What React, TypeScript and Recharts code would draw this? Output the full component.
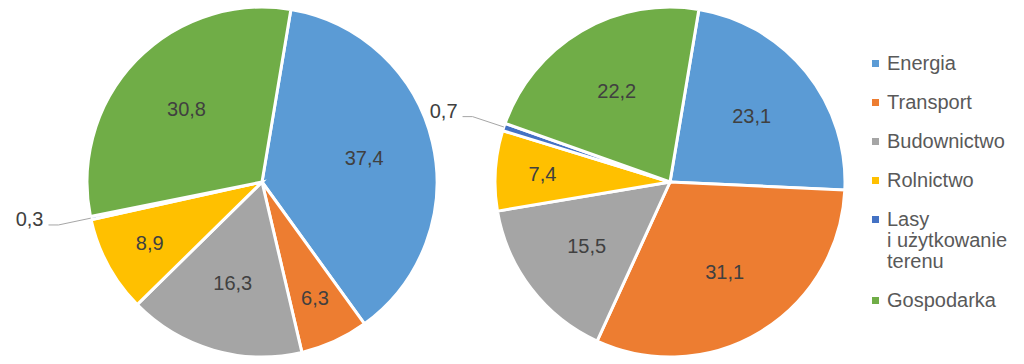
import { PieChart, Pie, Cell, Legend } from 'recharts';

const categories = ['Energia', 'Transport', 'Budownictwo', 'Rolnictwo', 'Lasy\ni użytkowanie\nterenu', 'Gospodarka'];
const leftValues = [37.4, 6.3, 16.3, 8.9, 0.3, 30.8];
const rightValues = [23.1, 31.1, 15.5, 7.4, 0.7, 22.2];
const colors = ['#5B9BD5', '#ED7D31', '#A5A5A5', '#FFC000', '#4472C4', '#70AD47'];

const leftData = categories.map((name, i) => ({ name, value: leftValues[i] }));
const rightData = categories.map((name, i) => ({ name, value: rightValues[i] }));

const RAD = Math.PI / 180;
const FONT = '"Liberation Sans", Arial, sans-serif';

const fmt = (v: number) => v.toFixed(1).replace('.', ',');

function SliceLabel(props: any) {
    const { cx, cy, midAngle, outerRadius, percent, value } = props;
    const cos = Math.cos(-midAngle * RAD);
    const sin = Math.sin(-midAngle * RAD);
    if (percent < 0.02) {
        // small slice: label outside with a leader line
        const sx = cx + outerRadius * cos;
        const sy = cy + outerRadius * sin;
        const mx = cx + (outerRadius + 33) * cos;
        const my = cy + (outerRadius + 33) * sin;
        const dir = cos < 0 ? -1 : 1;
        const ex = mx + dir * 10;
        return (
            <g>
                <polyline points={`${sx},${sy} ${mx},${my} ${ex},${my}`} fill="none" stroke="#A6A6A6" strokeWidth={1} />
                <text x={ex + dir * 5} y={my - 6} textAnchor={dir < 0 ? 'end' : 'start'} dominantBaseline="central"
                    fill="#404040" fontSize={20} fontFamily={FONT}>{fmt(value)}</text>
            </g>
        );
    }
    const r = outerRadius * (percent < 0.1 ? 0.73 : 0.6);
    return (
        <text x={cx + r * cos} y={cy + r * sin} textAnchor="middle" dominantBaseline="central"
            fill="#404040" fontSize={20} fontFamily={FONT}>{fmt(value)}</text>
    );
}

function LegendBox() {
    return (
        <div style={{ fontFamily: FONT, fontSize: 20, lineHeight: '21px', color: '#595959' }}>
            {categories.map((name, i) => (
                <div key={name} style={{ position: 'relative', paddingLeft: 21, marginBottom: 18 }}>
                    <span style={{ position: 'absolute', left: 6, top: 7, width: 7, height: 7, background: colors[i] }} />
                    {name.split('\n').map((line) => <div key={line}>{line}</div>)}
                </div>
            ))}
        </div>
    );
}

export default function App() {
    return (
        <div style={{ position: 'absolute', left: 0, top: 0, width: 1024, height: 364, background: '#fff' }}>
            <PieChart width={1024} height={364} margin={{ top: 0, right: 0, bottom: 0, left: 0 }}>
                <Pie data={leftData} dataKey="value" cx={262} cy={182} outerRadius={175}
                    startAngle={80.5} endAngle={-279.5} stroke="#fff" strokeWidth={3}
                    label={SliceLabel} labelLine={false} isAnimationActive={false}>
                    {leftData.map((d, i) => <Cell key={d.name} fill={colors[i]} />)}
                </Pie>
                <Pie data={rightData} dataKey="value" cx={670} cy={182} outerRadius={175}
                    startAngle={80.5} endAngle={-279.5} stroke="#fff" strokeWidth={3}
                    label={SliceLabel} labelLine={false} isAnimationActive={false}>
                    {rightData.map((d, i) => <Cell key={d.name} fill={colors[i]} />)}
                </Pie>
                <Legend content={<LegendBox />} layout="vertical"
                    wrapperStyle={{ left: 866, top: 53, width: 158 }} />
            </PieChart>
        </div>
    );
}
